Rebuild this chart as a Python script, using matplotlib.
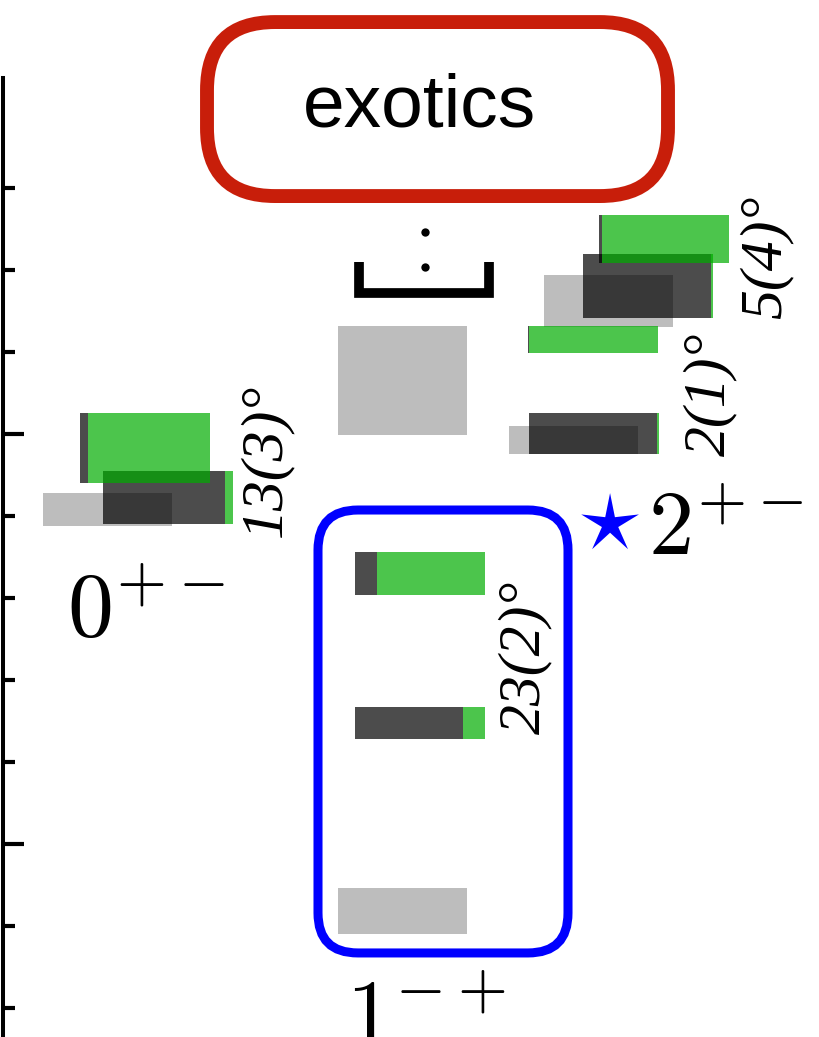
import matplotlib
matplotlib.use('Agg')
import matplotlib.pyplot as plt
from matplotlib.patches import FancyBboxPatch

plt.rcParams['mathtext.fontset'] = 'cm'

# masses in GeV (lo, hi)
gray_lo = [2.388, 2.499, 1.890, 2.630, 2.476]
gray_hi = [2.428, 2.632, 1.946, 2.694, 2.510]

model_lo = [2.440, 2.390, 2.304, 2.128, 2.7085, 2.641, 2.599, 2.476]
model_hi = [2.526, 2.455, 2.356, 2.167, 2.767, 2.7195, 2.632, 2.526]
dark_frac = [0.06, 0.94, 0.17, 0.83, 0.02, 0.985, 0.01, 0.985]

angles = ['13(3)°', '23(2)°', '2(1)°', '5(4)°']
jpc = [r'0^{+-}', r'1^{-+}', r'2^{+-}']

# layout (horizontal, in pixels)
gray_x = [43, 338, 338, 544, 509]
model_x = [80, 103, 355, 355, 599, 583, 528, 529]
gray_w = 129
model_w = 130

fig = plt.figure(figsize=(8.2, 10.37), dpi=100)
ax = fig.add_axes([0, 0, 1, 1])
ax.set_xlim(0, 820)
ax.set_ylim(1.7646, 3.0293)
asp = 1 / 820.0

# grey boxes
ax.bar(gray_x, [h - l for l, h in zip(gray_lo, gray_hi)], width=gray_w,
       bottom=gray_lo, align='edge', color='k', alpha=0.26, lw=0)

# dark / green split bars
dw = [model_w * f for f in dark_frac]
gw = [model_w - d for d in dw]
hts = [h - l for l, h in zip(model_lo, model_hi)]
ax.bar(model_x, hts, width=dw, bottom=model_lo, align='edge',
       color='k', alpha=0.7, lw=0)
ax.bar([x + d for x, d in zip(model_x, dw)], hts, width=gw, bottom=model_lo,
       align='edge', color=(0, 0.68, 0), alpha=0.7, lw=0)

# exotics box
red = FancyBboxPatch((207, 2.7902), 461, 3.0024 - 2.7902,
                     boxstyle='round,pad=0,rounding_size=68', mutation_aspect=asp,
                     fc='none', ec='#c81e0a', lw=10, clip_on=False)
ax.add_patch(red)
ax.text(420, 2.899, 'exotics', ha='center', va='center', fontsize=54,
        family='Liberation Sans')

blue = FancyBboxPatch((318, 1.8671), 250, 2.4073 - 1.8671,
                      boxstyle='round,pad=0,rounding_size=40', mutation_aspect=asp,
                      fc='none', ec='#0000ff', lw=6.5, clip_on=False)
ax.add_patch(blue)

# bracket with dots
ax.plot([359, 359, 489, 489], [2.7098, 2.672, 2.672, 2.7098], color='k', lw=7,
        solid_capstyle='butt', solid_joinstyle='miter')
ax.plot([425, 425], [2.7463, 2.7037], 'ko', ms=6, mew=0)

# J^PC labels
ax.text(67, 2.2524, '$' + jpc[0] + '$', fontsize=66, ha='left', va='baseline')
ax.text(346, 1.7561, '$' + jpc[1] + '$', fontsize=66, ha='left', va='baseline')
ax.text(648, 2.3524, '$' + jpc[2] + '$', fontsize=65, ha='left', va='baseline')
ax.text(608, 2.3927, r'$\star$', fontsize=66, color='#0000ff', ha='center', va='center')

# mixing angles
ang_xy = [(266, 2.468), (525, 2.228), (710, 2.5488), (766, 2.7159)]
for s, (x, y) in zip(angles, ang_xy):
    ax.text(x, y, s, rotation=90, ha='center', va='center', fontsize=43,
            family='Liberation Serif', style='italic')

# axis
for side in ['top', 'right', 'bottom']:
    ax.spines[side].set_visible(False)
ax.spines['left'].set_position(('data', 3))
ax.spines['left'].set_linewidth(2.9)
ax.spines['left'].set_bounds(1.76, 2.934)
ax.set_yticks([2.0, 2.5])
ax.set_yticks([1.8, 1.9, 2.1, 2.2, 2.3, 2.4, 2.6, 2.7, 2.8], minor=True)
ax.tick_params(axis='y', which='major', direction='in', length=15, width=3, labelleft=False)
ax.tick_params(axis='y', which='minor', direction='in', length=8.6, width=3)
ax.set_xticks([])
ax.patch.set_visible(False)

fig.savefig('out.png', dpi=100)
